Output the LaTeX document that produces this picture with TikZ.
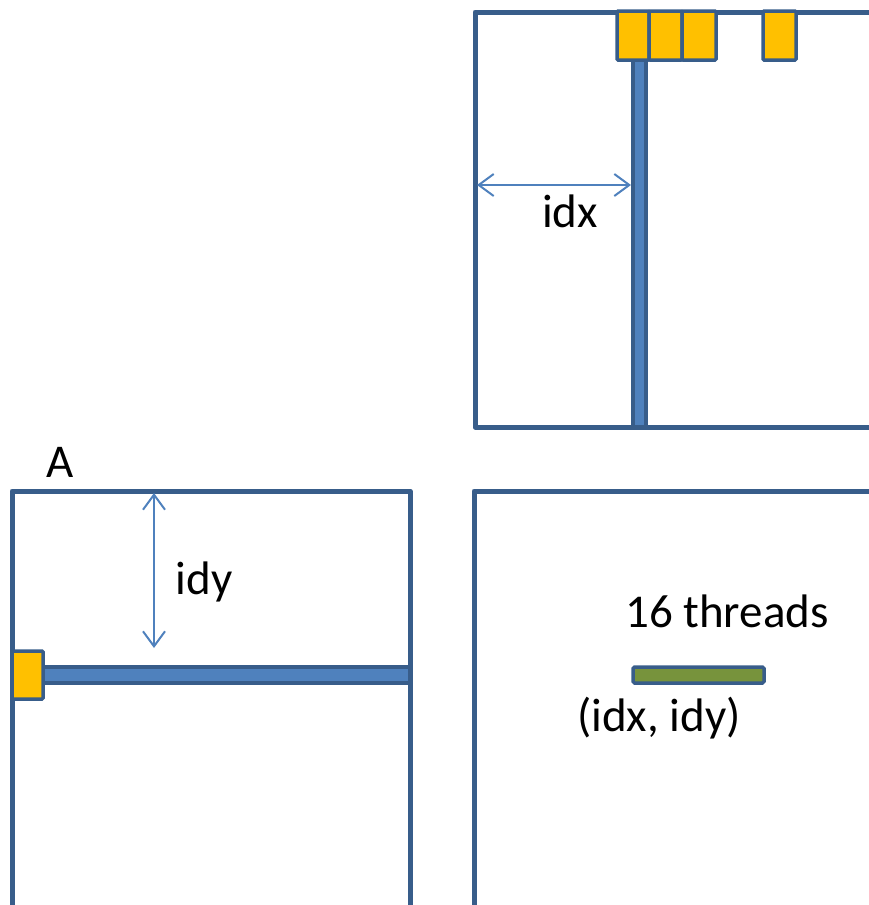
\documentclass[tikz,border=0pt]{standalone}
\usepackage{fontspec}
\setmainfont{Carlito}
\usetikzlibrary{arrows.meta}
\definecolor{edge}{RGB}{56,93,138}
\definecolor{bluefill}{RGB}{79,129,189}
\definecolor{gold}{RGB}{255,192,0}
\definecolor{olive}{RGB}{119,147,60}
\tikzset{
  frame/.style={draw=edge, line width=5pt, line join=round},
  cell/.style={draw=edge, fill=gold, line width=3.5pt, rounded corners=1pt},
  bar/.style={draw=edge, fill=bluefill, line width=3.5pt},
  gbar/.style={draw=edge, fill=olive, line width=3.5pt, rounded corners=1.5pt},
  dim/.style={draw=bluefill, line width=2pt, {Straight Barb[length=15pt,width=22pt]}-{Straight Barb[length=15pt,width=22pt]}},
  lbl/.style={font=\fontsize{47}{52}\selectfont, inner sep=0pt}
}
\begin{document}
\begin{tikzpicture}[x=1pt,y=-1pt]
\useasboundingbox (0,0) rectangle (869,905);
% frames
\draw[frame] (905,12) -- (475,12) -- (475,427) -- (905,427);
\draw[frame] (12,920) -- (12,491) -- (410,491) -- (410,920);
\draw[frame] (474,920) -- (474,491) -- (905,491);
% vertical bar
\draw[bar] (633,60) rectangle (646,427);
% top cells
\draw[cell] (617,11) rectangle (649,60);
\draw[cell] (649,11) rectangle (682,60);
\draw[cell] (682,11) rectangle (716,60);
\draw[cell] (763,11) rectangle (796,60);
% horizontal bar
\draw[bar] (42,667) rectangle (410,683);
\draw[cell] (12,651) rectangle (43,699);
% green bar
\draw[gbar] (633,667) rectangle (764,683);
% dimension arrows
\coordinate (xl) at (477,185);
\coordinate (xr) at (631,185);
\draw[dim] (xl) -- (xr);
\coordinate (yt) at (154,493);
\coordinate (yb) at (154,648);
\draw[dim] (yt) -- (yb);
% labels
\node[lbl] (lidx) at (570,211) {idx};
\node[lbl] (lidy) at (204,582) {idy};
\node[lbl] (lA) at (60,462) {A};
\node[lbl] (lthr) at (727,611) {16 threads};
\node[lbl] (lpos) at (659,718) {(idx, idy)};
\end{tikzpicture}
\end{document}
